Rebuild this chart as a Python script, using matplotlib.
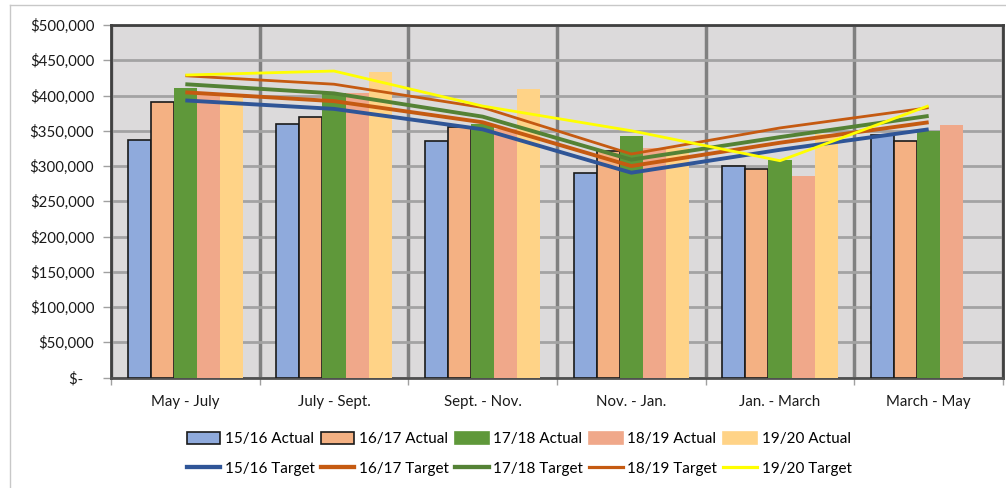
import numpy as np
import matplotlib
matplotlib.use("Agg")
import matplotlib.pyplot as plt
from matplotlib.patches import Patch
from matplotlib.lines import Line2D
from matplotlib.ticker import FuncFormatter

plt.rcParams['font.family'] = ['Lato', 'DejaVu Sans']

periods = ["May - July", "July - Sept.", "Sept. - Nov.", "Nov. - Jan.", "Jan. - March", "March - May"]

actual_1516 = [337000, 359000, 335000, 290500, 300000, 344000]
actual_1617 = [391000, 369000, 355000, 321000, 296000, 335500]
actual_1718 = [411000, 403000, 360000, 343000, 308500, 350000]
actual_1819 = [401000, 404000, 352000, 326000, 286000, 358500]
actual_1920 = [399000, 434000, 409000, 325000, 345000, np.nan]

target_1516 = [393000, 381000, 352000, 290500, 323000, 352000]
target_1617 = [404500, 392000, 362000, 300000, 333000, 362000]
target_1718 = [416000, 403000, 370000, 309000, 341000, 371000]
target_1819 = [428000, 416000, 383000, 317000, 354000, 382700]
target_1920 = [429000, 434700, 385000, 350000, 307500, 385500]

actual_labels = ["15/16 Actual", "16/17 Actual", "17/18 Actual", "18/19 Actual", "19/20 Actual"]
target_labels = ["15/16 Target", "16/17 Target", "17/18 Target", "18/19 Target", "19/20 Target"]

bar_colors = ["#8FAADC", "#F4B183", "#5F983A", "#F0A88A", "#FFD387"]
bar_edges = ["#1A1A1A", "#1A1A1A", "none", "none", "none"]
line_colors = ["#2F5597", "#C55A11", "#548235", "#C55A11", "#FFFF00"]
line_widths = [2.8, 2.8, 2.8, 2.0, 2.0]

fig = plt.figure(figsize=(10.06, 4.88), dpi=100)
fig.patch.set_facecolor("white")
ax = fig.add_axes([111 / 1006, 1 - 377.5 / 488, 892 / 1006, 352.5 / 488])
ax.set_facecolor("#DCDADB")

x = np.arange(len(periods))
bw = 0.155
actuals = [actual_1516, actual_1617, actual_1718, actual_1819, actual_1920]
for i, vals in enumerate(actuals):
    ax.bar(x + (i - 2) * bw, vals, width=bw, color=bar_colors[i],
           edgecolor=bar_edges[i], linewidth=1.2 if bar_edges[i] != "none" else 0,
           zorder=3)

targets = [target_1516, target_1617, target_1718, target_1819, target_1920]
for i, vals in enumerate(targets):
    ax.plot(x, vals, color=line_colors[i], lw=line_widths[i], zorder=4,
            solid_capstyle="butt")

ax.set_xlim(-0.5, len(periods) - 0.5)
ax.set_ylim(0, 500000)
ax.set_yticks(np.arange(0, 500001, 50000))
ax.yaxis.set_major_formatter(FuncFormatter(
    lambda v, p: "$-   " if v == 0 else f"${v:,.0f}"))
ax.set_xticks(x)
ax.set_xticklabels(periods)
ax.set_xticks(np.arange(-0.5, len(periods)), minor=True)

ax.grid(axis="y", color="#A3A3A3", lw=2, zorder=1)
ax.grid(axis="x", which="minor", color="#808080", lw=2.5, zorder=1)
ax.tick_params(axis="y", length=6, width=1, color="#A0A0A0", pad=6,
               labelsize=10.8, labelcolor="#1A1A1A")
ax.tick_params(axis="x", which="major", length=0, pad=12.5,
               labelsize=10.8, labelcolor="#1A1A1A")
ax.tick_params(axis="x", which="minor", length=5, width=1, color="#A0A0A0")

for side in ["left", "top", "right"]:
    ax.spines[side].set_color("#404040")
    ax.spines[side].set_linewidth(2)
ax.spines["bottom"].set_color("#505050")
ax.spines["bottom"].set_linewidth(2)

handles, labels = [], []
for i in range(5):
    handles.append(Patch(facecolor=bar_colors[i],
                         edgecolor=bar_edges[i] if bar_edges[i] != "none" else bar_colors[i],
                         linewidth=1.2))
    labels.append(actual_labels[i])
    handles.append(Line2D([0], [0], color=line_colors[i], lw=line_widths[i] + 0.3))
    labels.append(target_labels[i])

fig.legend(handles, labels, ncol=5, loc="center", bbox_to_anchor=(519 / 1006, 1 - 454 / 488),
           frameon=False, fontsize=11, handlelength=2.2, handleheight=0.9,
           handletextpad=0.3, columnspacing=0.4, labelspacing=1.0)

# outer frame around the chart area
fig.add_artist(Line2D([10 / 1006, 10 / 1006], [0, 1 - 5 / 488], color="#C8C8C8", lw=1,
                      transform=fig.transFigure))
fig.add_artist(Line2D([10 / 1006, 1], [1 - 5 / 488, 1 - 5 / 488], color="#C8C8C8", lw=1,
                      transform=fig.transFigure))

fig.savefig("out.png", dpi=100)
